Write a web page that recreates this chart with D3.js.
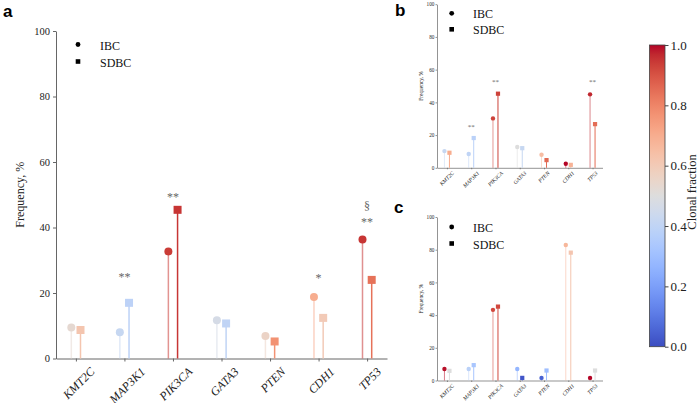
<!DOCTYPE html>
<html><head><meta charset="utf-8">
<script src="https://cdn.jsdelivr.net/npm/d3@7"></script>
<style>body{margin:0;background:#fff}</style>
</head><body>
<svg id="chart" width="700" height="403"></svg>
<script>
// ---------- data ----------
const genes = ["KMT2C", "MAP3K1", "PIK3CA", "GATA3", "PTEN", "CDH1", "TP53"];
const yTicks = [0, 20, 40, 60, 80, 100];
const cbTicks = [0, 0.2, 0.4, 0.6, 0.8, 1.0];
const legendLabels = ["IBC", "SDBC"];

// panel a
const aIBC = [9.5, 8.0, 32.7, 11.7, 6.9, 18.8, 36.3];
const aSDBC = [8.7, 17.0, 45.4, 10.7, 5.2, 12.4, 24.0];
const aIBCclonal = [0.53, 0.42, 0.94, 0.47, 0.56, 0.70, 0.95];
const aSDBCclonal = [0.62, 0.39, 0.95, 0.40, 0.77, 0.60, 0.84];
const aMarks = [["MAP3K1", "**", 23.7], ["PIK3CA", "**", 48.1], ["CDH1", "*", 23.4], ["TP53", "**", 40.6], ["TP53", "§", 45.2]];

// panel b
const bIBC = [10.2, 8.4, 30.2, 12.7, 8.0, 2.5, 44.9];
const bSDBC = [9.2, 18.2, 45.3, 12.0, 4.7, 1.8, 26.7];
const bIBCclonal = [0.42, 0.40, 0.93, 0.50, 0.65, 1.0, 0.97];
const bSDBCclonal = [0.70, 0.38, 0.93, 0.42, 0.86, 0.68, 0.85];
const bMarks = [["MAP3K1", "**", 23.6], ["PIK3CA", "**", 51.1], ["TP53", "**", 51.1]];

// panel c
const cIBC = [7.0, 7.0, 43.2, 7.0, 1.6, 82.9, 1.6];
const cSDBC = [5.9, 9.4, 45.2, 1.6, 6.1, 78.2, 6.1];
const cIBCclonal = [0.99, 0.38, 0.92, 0.27, 0.05, 0.67, 1.0];
const cSDBCclonal = [0.50, 0.33, 0.92, 0.02, 0.30, 0.62, 0.50];
const cMarks = [];

// coolwarm colormap table (Moreland)
const coolwarmRGB = [
 [59,76,192],[68,90,204],[77,104,215],[87,117,225],[98,130,234],[108,142,241],[119,154,247],[130,165,251],
 [141,176,254],[152,185,255],[163,194,255],[174,201,253],[184,208,249],[194,213,244],[204,217,238],[213,219,230],
 [221,221,221],[229,216,209],[236,211,197],[241,204,185],[245,196,173],[247,187,160],[247,177,148],[247,166,135],
 [244,154,123],[241,141,111],[236,127,99],[229,112,88],[222,96,77],[213,80,66],[203,62,56],[192,40,47],[180,4,38]];
const cmap = d3.scaleLinear()
  .domain(coolwarmRGB.map((_, i) => i / (coolwarmRGB.length - 1)))
  .range(coolwarmRGB.map(c => `rgb(${c[0]},${c[1]},${c[2]})`))
  .interpolate(d3.interpolateRgb).clamp(true);

// ---------- drawing ----------
const SERIF = "'Liberation Serif','Times New Roman',serif";
const SANS = "'Liberation Sans',Arial,sans-serif";
const svg = d3.select("#chart");
const defs = svg.append("defs");
svg.append("rect").attr("width", 700).attr("height", 403).attr("fill", "#fff");
const C45 = Math.SQRT1_2;

function panel(cfg) {
  const g = svg.append("g");
  const x = d3.scalePoint().domain(genes).range([cfg.x0, cfg.x1]).padding(0.41);
  const y = d3.scaleLinear().domain([0, 100]).range([cfg.yb, cfg.yt]);

  const ya = g.append("g").attr("transform", `translate(${cfg.x0},0)`)
    .call(d3.axisLeft(y).tickValues(yTicks).tickSize(cfg.tick).tickSizeOuter(0).tickPadding(cfg.pad));
  const xa = g.append("g").attr("transform", `translate(0,${cfg.yb})`)
    .call(d3.axisBottom(x).tickSize(cfg.tick).tickSizeOuter(0).tickFormat(() => ""));
  xa.selectAll(".tick text").remove();
  [ya, xa].forEach(a => {
    a.select(".domain").attr("stroke", "#666").attr("stroke-width", cfg.lw);
    a.selectAll(".tick line").attr("stroke", "#666").attr("stroke-width", cfg.lw);
  });
  ya.selectAll("text").attr("font-family", SERIF).attr("font-size", cfg.tickFs).attr("fill", "#222");

  // gene labels rotated by 45 degrees, centred under each tick
  genes.forEach(gn => {
    const t = g.append("text").text(gn)
      .attr("font-family", SERIF).attr("font-style", "italic")
      .attr("font-size", cfg.labFs).attr("fill", "#222")
      .attr("text-anchor", "middle").attr("dy", "0.32em");
    let L = 0;
    try { L = t.node().getComputedTextLength(); } catch (e) { L = 0; }
    if (!L || !isFinite(L)) L = gn.length * cfg.labFs * 0.6;
    const h = (L + cfg.labFs * 0.75) * C45;
    const cx = x(gn) + cfg.labDx, cy = cfg.yb + cfg.labGap + h / 2;
    t.attr("transform", `translate(${cx},${cy}) rotate(-45)`);
  });

  g.append("text").text("Frequency, %")
    .attr("font-family", SERIF).attr("font-size", cfg.ylabFs).attr("fill", "#222")
    .attr("text-anchor", "middle")
    .attr("transform", `translate(${cfg.ylabX},${(cfg.yb + cfg.yt) / 2}) rotate(-90)`);

  const series = [
    {vals: cfg.ibc, cf: cfg.ibcCf, off: -cfg.off, shape: "circle", stemOp: 0.55},
    {vals: cfg.sdbc, cf: cfg.sdbcCf, off: cfg.off, shape: "square", stemOp: 1}
  ];
  series.forEach(s => {
    g.append("g").selectAll("line").data(genes).join("line")
      .attr("x1", (d) => x(d) + s.off).attr("x2", (d) => x(d) + s.off)
      .attr("y1", y(0)).attr("y2", (d, i) => y(s.vals[i]))
      .attr("stroke", (d, i) => cmap(s.cf[i])).attr("stroke-width", cfg.stemW)
      .attr("stroke-opacity", s.stemOp);
  });
  series.forEach(s => {
    const mg = g.append("g");
    if (s.shape === "circle") {
      mg.selectAll("circle").data(genes).join("circle")
        .attr("cx", d => x(d) + s.off).attr("cy", (d, i) => y(s.vals[i]))
        .attr("r", cfg.r).attr("fill", (d, i) => cmap(s.cf[i]));
    } else {
      mg.selectAll("rect").data(genes).join("rect")
        .attr("x", d => x(d) + s.off - cfg.sq / 2).attr("y", (d, i) => y(s.vals[i]) - cfg.sq / 2)
        .attr("width", cfg.sq).attr("height", cfg.sq).attr("fill", (d, i) => cmap(s.cf[i]));
    }
  });

  g.append("g").selectAll("text").data(cfg.marks).join("text")
    .text(d => d[1]).attr("x", d => x(d[0])).attr("y", d => y(d[2]))
    .attr("text-anchor", "middle").attr("font-family", SERIF)
    .attr("font-size", cfg.markFs).attr("fill", "#666");

  const lg = g.append("g");
  lg.append("circle").attr("cx", cfg.legX).attr("cy", cfg.legY).attr("r", 2.4).attr("fill", "#000");
  lg.append("rect").attr("x", cfg.legX - 2.3).attr("y", cfg.legY + cfg.legDy - 2.3)
    .attr("width", 4.6).attr("height", 4.6).attr("fill", "#000");
  legendLabels.forEach((lab, i) => {
    lg.append("text").text(lab).attr("x", cfg.legTx).attr("y", cfg.legY + 5 + i * cfg.legDy)
      .attr("font-family", SERIF).attr("font-size", 12).attr("fill", "#111");
  });

  g.append("text").text(cfg.letter).attr("x", cfg.letX).attr("y", cfg.letY)
    .attr("font-family", SANS).attr("font-weight", "bold").attr("font-size", 17).attr("fill", "#000");
}

panel({x0: 56, x1: 387, yb: 358.5, yt: 31, tick: 3, pad: 3, lw: 1, tickFs: 10.5, labFs: 12, labDx: 3, labGap: 8,
  ylabFs: 12, ylabX: 24, off: 4.6, stemW: 1.5, r: 4, sq: 8, markFs: 12,
  ibc: aIBC, sdbc: aSDBC, ibcCf: aIBCclonal, sdbcCf: aSDBCclonal, marks: aMarks,
  legX: 78, legY: 44.5, legDy: 17, legTx: 100, letter: "a", letX: 3, letY: 17});

panel({x0: 437, x1: 602.5, yb: 167.8, yt: 4.2, tick: 1.5, pad: 1.2, lw: 0.7, tickFs: 5.2, labFs: 5.5, labDx: 0, labGap: 3,
  ylabFs: 5.4, ylabX: 422.5, off: 2.5, stemW: 1, r: 2.2, sq: 4.2, markFs: 7,
  ibc: bIBC, sdbc: bSDBC, ibcCf: bIBCclonal, sdbcCf: bSDBCclonal, marks: bMarks,
  legX: 451.7, legY: 13.3, legDy: 16, legTx: 473, letter: "b", letX: 395, letY: 16});

panel({x0: 437, x1: 602.5, yb: 380.5, yt: 217, tick: 1.5, pad: 1.2, lw: 0.7, tickFs: 5.2, labFs: 5.5, labDx: 0, labGap: 3,
  ylabFs: 5.4, ylabX: 422.5, off: 2.5, stemW: 1, r: 2.2, sq: 4.2, markFs: 7,
  ibc: cIBC, sdbc: cSDBC, ibcCf: cIBCclonal, sdbcCf: cSDBCclonal, marks: cMarks,
  legX: 451.7, legY: 227, legDy: 16.5, legTx: 473, letter: "c", letX: 394, letY: 213});

// ---------- colorbar ----------
const cb = {x: 649.5, w: 15.5, yt: 45, yb: 346.7};
const grad = defs.append("linearGradient").attr("id", "cwgrad")
  .attr("x1", 0).attr("y1", 1).attr("x2", 0).attr("y2", 0);
d3.range(0, 1.0001, 1 / 64).forEach(t => {
  grad.append("stop").attr("offset", t).attr("stop-color", cmap(t));
});
svg.append("rect").attr("x", cb.x).attr("y", cb.yt).attr("width", cb.w).attr("height", cb.yb - cb.yt)
  .attr("fill", "url(#cwgrad)").attr("stroke", "#444").attr("stroke-width", 0.8);
const cbScale = d3.scaleLinear().domain([0, 1]).range([cb.yb, cb.yt]);
const cbAxis = svg.append("g").attr("transform", `translate(${cb.x + cb.w},0)`)
  .call(d3.axisRight(cbScale).tickValues(cbTicks).tickFormat(d3.format(".1f")).tickSize(3.5).tickPadding(2).tickSizeOuter(0));
cbAxis.select(".domain").remove();
cbAxis.selectAll(".tick line").attr("stroke", "#444");
cbAxis.selectAll("text").attr("font-family", SERIF).attr("font-size", 13).attr("fill", "#222");
svg.append("text").text("Clonal fraction")
  .attr("font-family", SERIF).attr("font-size", 12.5).attr("fill", "#222").attr("text-anchor", "middle")
  .attr("transform", "translate(696,192) rotate(-90)");
</script>
</body></html>
